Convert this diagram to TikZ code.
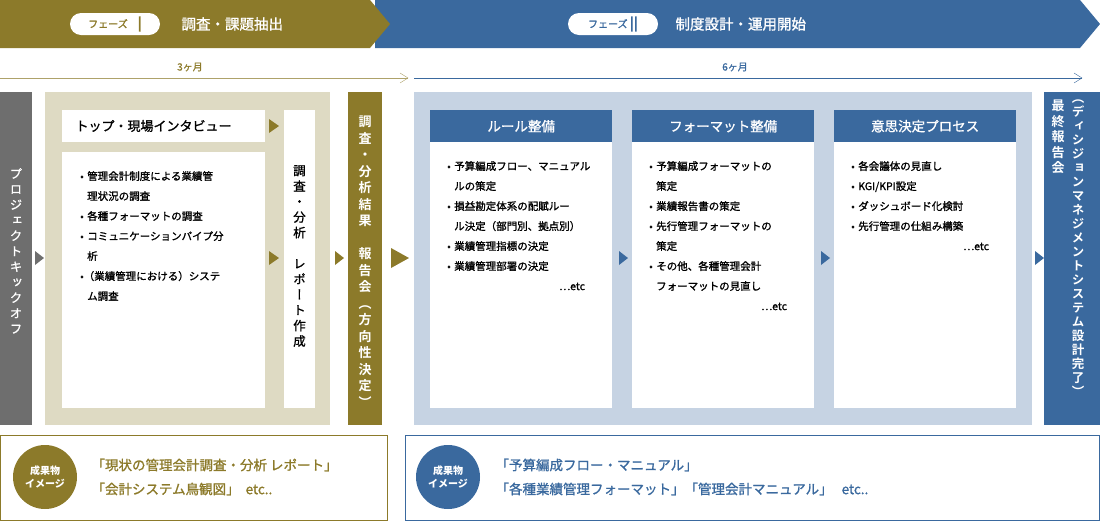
\documentclass[tikz,border=0pt]{standalone}
\usepackage{fontspec}
\setmainfont{Noto Sans CJK JP}
\newfontfamily\med[FakeBold=1.2]{Noto Sans CJK JP}
\newfontfamily\cjkv[RawFeature=+vert,FakeBold=1]{Noto Sans CJK JP}
\newfontfamily\cjkb[RawFeature=+vert]{Noto Sans CJK JP Bold}
\ExplSyntaxOn
\NewDocumentCommand\vt{m}{\tl_head:n{#1}\tl_set:Ne\l_tmpa_tl{\tl_tail:n{#1}}\tl_map_inline:Nn\l_tmpa_tl{\\##1}}
\ExplSyntaxOff
\definecolor{ol}{HTML}{8C7A2A}
\definecolor{bl}{HTML}{3A699E}
\definecolor{gy}{HTML}{6E6E6E}
\definecolor{bg}{HTML}{DEDAC3}
\definecolor{lb}{HTML}{C6D3E3}
\begin{document}
\begin{tikzpicture}[x=1pt,y=-1pt,
  vtx/.style={align=center,font=\cjkv\fontsize{12}{14.5}\selectfont,inner sep=0pt,anchor=north},
  bul/.style={align=left,anchor=north west,font=\med\fontsize{10.5}{20}\selectfont,text width=160pt,inner sep=0pt},
  hd/.style={fill=bl,text=white,font=\med\fontsize{13.5}{15}\selectfont,minimum height=32pt,inner sep=0pt}]
\useasboundingbox (0,0) rectangle (1100,523);
% banners
\fill[bl] (375,0) -- (1080,0) -- (1100,24) -- (1080,48) -- (375,48) -- cycle;
\fill[ol] (0,0) -- (370,0) -- (390,24) -- (370,48) -- (0,48) -- cycle;
\node[fill=white,rounded corners=11pt,minimum width=90pt,minimum height=22pt,text=ol,font=\med\fontsize{10}{12}\selectfont] (p1) at (115,24) {フェーズ　{\fontsize{13}{13}\selectfont\bfseries|}};
\node[text=white,anchor=west,font=\med\fontsize{14.5}{16}\selectfont] (t1) at (178,24) {調査・課題抽出};
\node[fill=white,rounded corners=11pt,minimum width=90pt,minimum height=22pt,text=bl,font=\med\fontsize{10}{12}\selectfont] (p2) at (613,24) {フェーズ {\fontsize{13}{13}\selectfont\bfseries||}};
\node[text=white,anchor=west,font=\med\fontsize{14.5}{16}\selectfont] (t2) at (672,24) {制度設計・運用開始};
% timeline
\coordinate (l1a) at (0,78); \coordinate (l1b) at (408,78);
\coordinate (l2a) at (414,78); \coordinate (l2b) at (1082,78);
\draw[ol!70] (l1a) -- (l1b); \draw[ol!70] (400,73) -- (l1b) -- (400,83);
\draw[bl] (l2a) -- (l2b); \draw[bl] (1074,73) -- (l2b) -- (1074,83);
\node[text=ol,font=\med\fontsize{10}{12}\selectfont] (m3) at (190,67) {3ヶ月};
\node[text=bl,font=\med\fontsize{10}{12}\selectfont] (m6) at (735,67) {6ヶ月};
% kickoff
\fill[gy] (0,92) rectangle (32,425);
\node[vtx,text=white,font=\cjkv\fontsize{12.5}{15.5}\selectfont] (ko) at (16,168) {\vt{プロジェクトキックオフ}};
\fill[gy] (35,251) -- (44,258) -- (35,265) -- cycle;
% beige
\fill[bg] (45,92) rectangle (330,425);
\fill[white] (62,110) rectangle (265,142);
\node[font=\med\fontsize{13}{15}\selectfont,anchor=west] (iv) at (72,126) {トップ・現場インタビュー};
\fill[white] (62,152) rectangle (265,408);
\node[bul] (b1) at (80,171) {• 管理会計制度による業績管\\\ \ 理状況の調査\\• 各種フォーマットの調査\\• コミュニケーションパイプ分\\\ \ 析\\•（業績管理における）システ\\\ \ ム調査};
\fill[white] (284,110) rectangle (315,408);
\node[vtx,font=\cjkv\fontsize{12.5}{15.5}\selectfont] (rp) at (299.5,165) {\vt{調査・分析\ レポート作成}};
\fill[ol] (269,119) -- (279,126) -- (269,133) -- cycle;
\fill[ol] (269,251) -- (279,258) -- (269,265) -- cycle;
\fill[ol] (335,251) -- (344,258) -- (335,265) -- cycle;
% olive report
\fill[ol] (348,92) rectangle (382,425);
\node[vtx,text=white,font=\cjkb\fontsize{13}{16.5}\selectfont] (rk) at (365,116) {\vt{調査・分析結果\ 報告会（方向性決定）}};
\fill[ol] (391,248) -- (409,258) -- (391,268) -- cycle;
% blue area
\fill[lb] (414,92) rectangle (1032,425);
\foreach \x/\n/\t in {430/h1/ルール整備,632/h2/フォーマット整備,834/h3/意思決定プロセス}{
  \fill[white] (\x,142) rectangle (\x+182,408);
  \node[hd,minimum width=182pt,anchor=north west] (\n) at (\x,110) {\t};
}
\node[bul] (c1) at (447,161) {• 予算編成フロー、マニュアル\\\ \ ルの策定\\• 損益勘定体系の配賦ルー\\\ \ ル決定（部門別、拠点別）\\• 業績管理指標の決定\\• 業績管理部署の決定\\\hspace*{112pt}…etc};
\node[bul] (c2) at (649,161) {• 予算編成フォーマットの\\\ \ 策定\\• 業績報告書の策定\\• 先行管理フォーマットの\\\ \ 策定\\• その他、各種管理会計\\\ \ フォーマットの見直し\\\hspace*{112pt}…etc};
\node[bul] (c3) at (851,161) {• 各会議体の見直し\\• KGI/KPI設定\\• ダッシュボード化検討\\• 先行管理の仕組み構築\\\hspace*{112pt}…etc};
\foreach \x in {619,821,1035}{\fill[bl] (\x,251) -- (\x+9,258) -- (\x,265) -- cycle;}
% final
\fill[bl] (1044,92) rectangle (1100,425);
\node[vtx,text=white,font=\cjkb\fontsize{13}{15.5}\selectfont] (f1) at (1058,100) {\vt{最終報告会}};
\node[vtx,text=white,font=\cjkb\fontsize{12.5}{14}\selectfont] (f2) at (1078,100) {\vt{（ディシジョンマネジメントシステム設計完了）}};
% bottom
\draw[ol,line width=0.8pt] (0.5,435) rectangle (387,520);
\node[circle,fill=ol,minimum size=64pt,text=white,align=center,font=\fontsize{10}{13}\selectfont\bfseries] (k1) at (45,477) {成果物\\イメージ};
\node[anchor=west,text=ol,align=left,font=\med\fontsize{13.5}{24}\selectfont] (g1) at (88,477) {「現状の管理会計調査・分析 レポート」\\「会計システム鳥観図」\ \ etc..};
\draw[bl,line width=0.8pt] (405,435) rectangle (1099.5,520);
\node[circle,fill=bl,minimum size=64pt,text=white,align=center,font=\fontsize{10}{13}\selectfont\bfseries] (k2) at (448,477) {成果物\\イメージ};
\node[anchor=west,text=bl,align=left,font=\med\fontsize{13.5}{24}\selectfont] (g2) at (492,477) {「予算編成フロー・マニュアル」\\「各種業績管理フォーマット」「管理会計マニュアル」\ \ \ etc..};
\end{tikzpicture}
\end{document}
